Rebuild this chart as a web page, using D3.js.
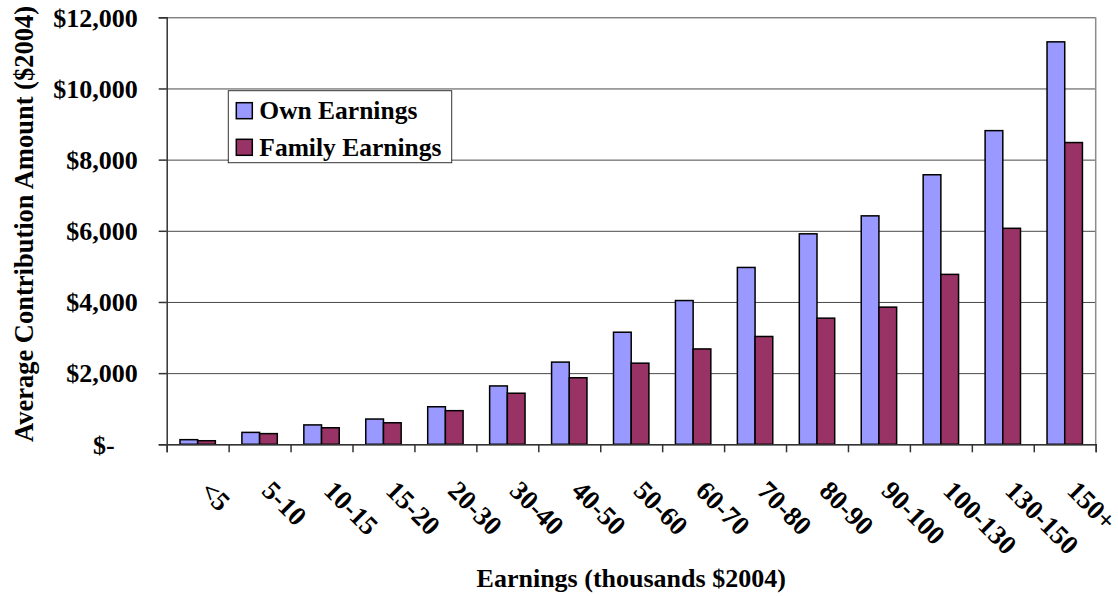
<!DOCTYPE html>
<html>
<head>
<meta charset="utf-8">
<script src="https://cdn.jsdelivr.net/npm/d3@7"></script>
<style>
  body { margin: 0; background: #fff; }
  text { font-family: "Liberation Serif", "Times New Roman", serif; font-weight: bold; fill: #000; }
</style>
</head>
<body>
<div id="chart"></div>
<script>
// data
var categories = ["<5", "5-10", "10-15", "15-20", "20-30", "30-40", "40-50", "50-60",
                  "60-70", "70-80", "80-90", "90-100", "100-130", "130-150", "150+"];
var seriesNames = ["Own Earnings", "Family Earnings"];
var ownEarnings = [130, 335, 545, 710, 1055, 1640, 2310, 3150, 4040, 4970, 5915, 6420, 7575, 8815, 11310];
var familyEarnings = [100, 300, 465, 605, 945, 1435, 1870, 2280, 2680, 3030, 3545, 3855, 4775, 6070, 8480];
var yTicks = [0, 2000, 4000, 6000, 8000, 10000, 12000];
var colors = ["#9999ff", "#993366"];

// set the dimensions and margins of the graph
var margin = { top: 17.3, right: 22.3, bottom: 151.7, left: 166.7 },
    width = 1118 - margin.left - margin.right,
    height = 596 - margin.top - margin.bottom;

var rows = categories.map(function(c, i) {
    return { cat: c, values: [ownEarnings[i], familyEarnings[i]] };
});

// set the ranges
var x0 = d3.scaleBand().domain(categories).range([0, width]).padding(0);
var x1 = d3.scaleBand().domain(d3.range(seriesNames.length))
    .range([0, x0.bandwidth()]).paddingInner(0).paddingOuter(0.75);
var xEdge = d3.scaleLinear().domain([0, categories.length]).range([0, width]);
var y = d3.scaleLinear().domain([0, 12000]).range([height, 0]);

var svg = d3.select("#chart").append("svg")
    .attr("width", 1118)
    .attr("height", 596)
    .append("g")
    .attr("transform", "translate(" + margin.left + "," + margin.top + ")");

// gridlines
svg.append("g")
    .attr("class", "grid")
    .call(d3.axisLeft(y).tickValues(yTicks).tickSize(-width).tickFormat(""))
    .call(function(g) { g.select(".domain").remove(); })
    .selectAll("line").attr("stroke", "#4a4a4a").attr("stroke-width", 1);

// right border of plot area
svg.append("line")
    .attr("x1", width).attr("x2", width)
    .attr("y1", 0).attr("y2", height)
    .attr("stroke", "#8c8c8c").attr("stroke-width", 1.5);

// bars
var groups = svg.selectAll(".cat")
    .data(rows)
    .enter().append("g")
    .attr("class", "cat")
    .attr("transform", function(d) { return "translate(" + x0(d.cat) + ",0)"; });

groups.selectAll("rect")
    .data(function(d) { return d.values; })
    .enter().append("rect")
    .attr("x", function(d, i) { return x1(i); })
    .attr("width", x1.bandwidth())
    .attr("y", function(d) { return y(d); })
    .attr("height", function(d) { return height - y(d); })
    .attr("fill", function(d, i) { return colors[i]; })
    .attr("stroke", "#000")
    .attr("stroke-width", 1.5);

// Y axis
var yAxis = svg.append("g")
    .call(d3.axisLeft(y).tickValues(yTicks).tickSize(8).tickPadding(21)
        .tickFormat(function(d) { return d === 0 ? "$-" : "$" + d3.format(",")(d); }));
yAxis.select(".domain").attr("stroke", "#333").attr("stroke-width", 1.5);
yAxis.selectAll("line").attr("stroke", "#333").attr("stroke-width", 1.5);
yAxis.selectAll("text")
    .style("font-size", "26px")
    .attr("dy", "0.34em")
    .filter(function(d) { return d === 0; })
    .attr("dx", -23);

// X axis: tick marks on category edges
var xAxis = svg.append("g")
    .attr("transform", "translate(0," + height + ")")
    .call(d3.axisBottom(xEdge).tickValues(d3.range(categories.length + 1)).tickSize(8).tickFormat(""));
xAxis.select(".domain").attr("stroke", "#333").attr("stroke-width", 1.5);
xAxis.selectAll("line").attr("stroke", "#333").attr("stroke-width", 1.5);

// X axis: rotated category labels
var xLabels = svg.append("g")
    .attr("transform", "translate(0," + height + ")")
    .call(d3.axisBottom(x0).tickSize(0));
xLabels.select(".domain").remove();
xLabels.selectAll("text")
    .style("font-size", "27px")
    .attr("x", 0).attr("y", 0).attr("dy", 0)
    .attr("text-anchor", "start")
    .attr("transform", "translate(1,48) rotate(45)");

// axis titles
svg.append("text")
    .attr("x", width / 2)
    .attr("y", height + 143)
    .attr("text-anchor", "middle")
    .style("font-size", "26px")
    .text("Earnings (thousands $2004)");

svg.append("text")
    .attr("transform", "translate(" + (33 - margin.left) + "," + (224 - margin.top) + ") rotate(-90)")
    .attr("text-anchor", "middle")
    .style("font-size", "26.5px")
    .text("Average Contribution Amount ($2004)");

// legend
var legend = svg.append("g")
    .attr("transform", "translate(" + (228.3 - margin.left) + "," + (90.7 - margin.top) + ")");
legend.append("rect")
    .attr("width", 223.4).attr("height", 72)
    .attr("fill", "#fff").attr("stroke", "#333").attr("stroke-width", 1);
var items = legend.selectAll(".item")
    .data(seriesNames)
    .enter().append("g")
    .attr("class", "item")
    .attr("transform", function(d, i) { return "translate(0," + (i * 36.6) + ")"; });
items.append("rect")
    .attr("x", 8).attr("y", 12).attr("width", 16).attr("height", 16)
    .attr("fill", function(d, i) { return colors[i]; })
    .attr("stroke", "#000").attr("stroke-width", 1.5);
items.append("text")
    .attr("x", 31).attr("y", 28.6)
    .style("font-size", "25.5px")
    .text(function(d) { return d; });
</script>
</body>
</html>
